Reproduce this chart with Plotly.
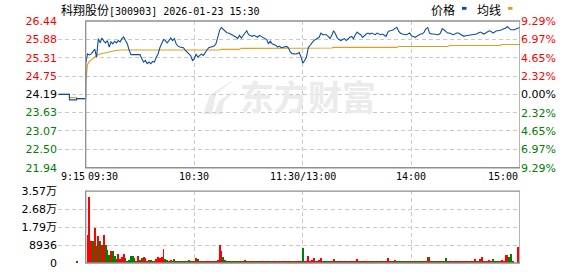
import plotly.graph_objects as go

# ---------------- data ----------------
title_name = "科翔股份"
title_rest = "[300903] 2026-01-23 15:30"
prev_close = 24.19

# pre-market auction 9:15 .. 9:29 (minutes relative to 9:30)
pre_min = [-15, -14, -13, -12, -11, -10, -9, -8, -7, -6, -5, -4, -3, -2, -1]
pre_price = [24.19, 24.19, 24.19, 24.19, 24.19, 24.19, 24.02, 24.02, 24.02, 24.02,
             24.06, 24.06, 24.06, 24.06, 24.06]
pre_avg = [24.19, 24.19, 24.19, 24.19, 24.19, 24.19, 24.09, 24.09, 24.09, 24.09,
           24.06, 24.06, 24.06, 24.06, 24.06]

# one price per trading minute, 09:30 (0) .. 15:00 (240)
price = [
    25.13, 25.43, 25.40, 25.43, 25.50, 25.58, 25.33, 25.90, 25.77, 25.92,
    25.82, 25.77, 25.84, 25.64, 25.80, 25.74, 25.82, 25.77, 25.84, 25.80,
    25.90, 25.95, 25.84, 25.74, 25.55, 25.41, 25.41, 25.41, 25.41, 25.41,
    25.41, 25.28, 25.18, 25.23, 25.13, 25.18, 25.13, 25.20, 25.18, 25.33,
    25.43, 25.62, 25.74, 25.87, 25.84, 25.77, 25.84, 25.92, 25.84, 25.90,
    25.74, 25.67, 25.64, 25.64, 25.62, 25.55, 25.48, 25.43, 25.38, 25.23,
    25.28, 25.43, 25.33, 25.38, 25.43, 25.38, 25.48, 25.55, 25.62, 25.64,
    25.66, 25.67, 25.74, 25.95, 26.15, 26.24, 26.18, 26.12, 26.08, 26.07,
    26.04, 26.02, 25.97, 25.95, 25.90, 26.00, 25.92, 26.00, 26.05, 26.14,
    26.02, 26.00, 25.97, 26.00, 25.97, 25.94, 26.00, 25.97, 25.94, 25.90,
    25.87, 25.74, 25.82, 25.74, 25.72, 25.70, 25.64, 25.67, 25.62, 25.64,
    25.66, 25.66, 25.62, 25.50, 25.44, 25.43, 25.43, 25.44, 25.48, 25.33,
    25.15, 25.23, 25.33, 25.62, 25.70, 25.80, 25.84, 25.87, 25.90, 25.94,
    26.07, 26.02, 26.02, 26.02, 25.97, 25.90, 26.00, 26.14, 26.05, 25.92,
    25.87, 25.84, 25.87, 25.90, 25.84, 25.90, 25.94, 25.97, 25.90, 26.02,
    26.10, 26.05, 26.02, 25.94, 26.00, 26.04, 26.07, 26.04, 26.07, 26.04,
    26.02, 26.07, 26.04, 26.02, 26.04, 25.99, 25.97, 26.10, 26.14, 26.15,
    26.17, 26.22, 26.24, 26.12, 26.06, 26.04, 26.02, 26.02, 26.04, 26.07,
    25.99, 25.97, 25.94, 25.97, 26.02, 26.04, 26.04, 26.10, 26.20, 26.24,
    26.07, 26.04, 26.04, 26.04, 26.02, 26.02, 26.07, 26.20, 26.17, 26.12,
    26.07, 26.07, 26.04, 26.02, 26.04, 26.07, 26.07, 26.04, 26.02, 25.97,
    25.99, 26.00, 26.00, 26.00, 26.02, 26.02, 26.04, 26.07, 26.10, 26.07,
    26.04, 26.07, 26.12, 26.14, 26.12, 26.07, 26.10, 26.14, 26.14, 26.15,
    26.17, 26.20, 26.22, 26.27, 26.22, 26.17, 26.17, 26.17, 26.20, 26.22,
    26.24,
]

# average price line, read at its turning points (minute, value)
avg_min = [0, 1, 2, 3, 4, 5, 6, 8, 10, 13, 16, 19, 33, 34, 60, 70, 74, 75, 85, 86,
           119, 120, 136, 137, 172, 173, 200, 201, 229, 230, 240]
avg_val = [24.53, 25.10, 25.20, 25.25, 25.29, 25.34, 25.38, 25.43, 25.46, 25.50,
           25.53, 25.55, 25.55, 25.53, 25.53, 25.55, 25.55, 25.57, 25.57, 25.60,
           25.60, 25.61, 25.61, 25.63, 25.63, 25.66, 25.66, 25.69, 25.69, 25.72,
           25.72]

# volume (shares) per minute 09:31 (1) .. 15:00 (240), direction R=up, G=down
pre_vol_min = [-5]
pre_vol = [870]
pre_vol_dir = "G"
vol = [
    14050, 32950, 11140, 10800, 17440, 8240, 13570, 10660, 8720, 13890,
    8720, 6300, 3880, 5810, 5810, 3390, 1940, 4360, 1940, 3070,
    4360, 2580, 650, 1450, 3390, 3390, 2580, 970, 3390, 1450,
    2580, 2900, 2260, 970, 1450, 1450, 650, 650, 1940, 2900,
    2580, 2900, 6780, 1940, 1450, 970, 1450, 650, 1940, 480,
    480, 480, 480, 480, 480, 480, 1450, 970, 970, 480,
    2420, 1940, 480, 480, 480, 480, 970, 480, 480, 480,
    480, 480, 1290, 8720, 5810, 2900, 1450, 480, 970, 480,
    480, 480, 480, 480, 480, 480, 480, 1290, 480, 480,
    480, 480, 480, 480, 480, 480, 480, 480, 480, 480,
    810, 480, 480, 480, 480, 480, 480, 480, 480, 480,
    480, 480, 480, 480, 480, 480, 480, 480, 480, 7270,
    480, 970, 3390, 970, 1450, 2420, 480, 480, 1450, 2420,
    480, 480, 480, 480, 480, 970, 1940, 480, 480, 480,
    480, 480, 480, 480, 480, 480, 480, 480, 480, 1940,
    480, 480, 480, 970, 480, 480, 480, 480, 480, 480,
    480, 480, 480, 480, 480, 480, 2420, 480, 480, 480,
    1450, 480, 480, 480, 480, 480, 480, 480, 480, 480,
    480, 480, 480, 480, 480, 480, 480, 480, 2900, 2900,
    480, 480, 480, 480, 480, 480, 480, 480, 2420, 480,
    480, 480, 480, 480, 480, 480, 480, 480, 480, 480,
    480, 480, 480, 480, 1940, 480, 480, 1940, 2900, 480,
    480, 970, 1450, 480, 1940, 970, 480, 480, 480, 1450,
    970, 3880, 3880, 2900, 4360, 480, 0, 0, 7750, 0,
]
vol_dir = (
    "RRRGRGRGRR" "GGGRGGGRRR" "RGGGGGRGRG" "RGRRGRGRRR" "RRRGGRRRGG"
    "RGRGRGGRGR" "RGRRGRRRGR" "RGRRRGGRGG" "RGGRGRGRGR" "GRRGRGRRGR"
    "GRGRRGRGRR" "GRRGRGRRRG" "RRRRRRGRRR" "GGGGRRRGGR" "RGRRGRRGRR"
    "RGRRRRGRRG" "RGRRGRRRRG" "RGGRGGRGGR" "GRGGRRGRRG" "RGRGGRGRGG"
    "RRGRRGRRGR" "RGRRRRGRRG" "RRRRGGRGRR" "RRRGGRRRRR"
)

# axis labels
time_ticks = [-15, 0, 60, 120, 180, 240]
time_labels = ["9:15", "09:30", "10:30", "11:30/13:00", "14:00", "15:00"]
price_ticks = [26.44, 25.88, 25.31, 24.75, 24.19, 23.63, 23.07, 22.50, 21.94]
pct_ticks = [9.29, 6.97, 4.65, 2.32, 0.00, -2.32, -4.65, -6.97, -9.29]
vol_ticks = [0, 8936, 17872, 26808, 35744]
vol_labels = ["0", "8936", "1.79万", "2.68万", "3.57万"]

# ---------------- style ----------------
RED = "#ff0000"
GREEN = "#008000"
BLUE = "#0d4ea0"
GOLD = "#e0a01c"
GRID = "#c9c9c9"
BORDER = "#8e8e8e"
NUMFONT = "DejaVu Sans, Noto Sans CJK SC"
MONOFONT = "DejaVu Sans Mono, Noto Sans CJK SC"
CJK = "Noto Sans CJK SC"

W, H = 578, 276
ML, MR, MT, MB = 58, 58, 21, 6
PW, PH = W - ML - MR, H - MT - MB


def px(xp):
    return (xp - ML) / PW


def py(yp):
    return (H - MB - yp) / PH


def tone(v, ref):
    if v > ref:
        return RED
    if v < ref:
        return GREEN
    return "#000000"


fig = go.Figure()

minutes = list(range(len(price)))

# average line
fig.add_trace(go.Scatter(x=pre_min + [0], y=pre_avg + [avg_val[0]], mode="lines",
                         line=dict(color=GOLD, width=1.1, shape="hv"),
                         xaxis="x", yaxis="y", hoverinfo="skip", showlegend=False))
fig.add_trace(go.Scatter(x=avg_min, y=avg_val, mode="lines",
                         line=dict(color=GOLD, width=1.1),
                         xaxis="x", yaxis="y", showlegend=False))
# price line
fig.add_trace(go.Scatter(x=pre_min + [0], y=pre_price + [price[0]], mode="lines",
                         line=dict(color=BLUE, width=1.1, shape="hv"),
                         xaxis="x", yaxis="y", hoverinfo="skip", showlegend=False))
fig.add_trace(go.Scatter(x=minutes, y=price, mode="lines",
                         line=dict(color=BLUE, width=1.1),
                         xaxis="x", yaxis="y", showlegend=False))
# helper trace for the right percent axis
fig.add_trace(go.Scatter(x=minutes, y=[(p / prev_close - 1) * 100 for p in price],
                         mode="lines", line=dict(width=0), opacity=0,
                         xaxis="x", yaxis="y3", hoverinfo="skip", showlegend=False))

# volume bars
vol_min = list(range(1, len(vol) + 1))
vol_colors = [RED if d == "R" else GREEN for d in vol_dir]
fig.add_trace(go.Bar(x=pre_vol_min + vol_min, y=pre_vol + vol,
                     marker=dict(color=[GREEN if pre_vol_dir == "G" else RED] + vol_colors,
                                 line=dict(width=0)),
                     width=0.5, xaxis="x2", yaxis="y2", showlegend=False))

grid_x = [-15, 60, 120, 180]
xcommon = dict(range=[-15.3, 240], tickvals=grid_x, showticklabels=False,
               showgrid=True, gridcolor=GRID, griddash="4px,3px", gridwidth=1,
               zeroline=False, showline=False, ticks="")

price_text = ["<span style='color:%s'>%.2f</span>" % (tone(v, prev_close), v) for v in price_ticks]
pct_text = ["<span style='color:%s'>%.2f%%</span>" % (tone(v, 0), abs(v)) for v in pct_ticks]

fig.update_layout(
    width=W, height=H,
    margin=dict(l=ML, r=MR, t=MT, b=MB, pad=0),
    paper_bgcolor="white", plot_bgcolor="white",
    bargap=0,
    xaxis=dict(domain=[0, 1], anchor="y", **xcommon),
    xaxis2=dict(domain=[0, 1], anchor="y2", matches="x", **xcommon),
    yaxis=dict(domain=[py(172), 1], anchor="x", range=[price_ticks[-1], price_ticks[0]],
               tickvals=price_ticks, ticktext=price_text,
               showgrid=True, gridcolor=GRID, griddash="4px,3px", gridwidth=1,
               zeroline=False, showline=False, ticks="",
               tickfont=dict(family=NUMFONT, size=11, color="#000000")),
    yaxis3=dict(overlaying="y", side="right", anchor="x",
                range=[pct_ticks[-1], pct_ticks[0]],
                tickvals=pct_ticks, ticktext=pct_text,
                showgrid=False, zeroline=False, showline=False, ticks="",
                tickfont=dict(family=NUMFONT, size=11, color="#000000")),
    yaxis2=dict(domain=[0, py(196)], anchor="x2", range=[0, vol_ticks[-1]],
                tickvals=vol_ticks, ticktext=vol_labels,
                showgrid=True, gridcolor=GRID, griddash="4px,3px", gridwidth=1,
                zeroline=False, showline=False, ticks="",
                tickfont=dict(family=NUMFONT, size=11, color="#000000")),
    hovermode=False,
)

shapes = [
    dict(type="rect", xref="x", yref="y domain", x0=0, x1=240, y0=0, y1=1,
         line=dict(color=BORDER, width=1.3), layer="above"),
    dict(type="rect", xref="x2", yref="y2 domain", x0=0, x1=240, y0=0, y1=1,
         line=dict(color=BORDER, width=1.3), layer="above"),
    # legend markers
    dict(type="rect", xref="paper", yref="paper", x0=px(462), x1=px(466.5),
         y0=py(9.5), y1=py(6.5), fillcolor=BLUE, line=dict(width=0)),
    dict(type="rect", xref="paper", yref="paper", x0=px(508), x1=px(512.5),
         y0=py(9.5), y1=py(6.5), fillcolor=GOLD, line=dict(width=0)),
]

# watermark logo strokes
def poly(points):
    return "M " + " L ".join("%.4f %.4f" % (px(a), py(b)) for a, b in points) + " Z"

for pts in ([(203, 117), (210, 97), (236, 80), (216, 96), (212, 117)],
            [(214, 117), (219, 103), (236, 92), (224, 104), (222, 117)]):
    shapes.append(dict(type="path", xref="paper", yref="paper", path=poly(pts),
                       fillcolor="#ebebeb", line=dict(width=0), layer="below"))

fig.update_layout(shapes=shapes)

annotations = [
    dict(xref="paper", yref="paper", x=px(59), y=py(9), xanchor="left", yanchor="middle",
         text="<span style='font-family:%s;font-size:12px'>%s</span>%s" % (CJK, title_name, title_rest),
         showarrow=False, font=dict(family=MONOFONT, size=10, color="#000000")),
    dict(xref="paper", yref="paper", x=px(443), y=py(9), xanchor="center", yanchor="middle",
         text="价格", showarrow=False, font=dict(family=CJK, size=12, color="#000000")),
    dict(xref="paper", yref="paper", x=px(488.5), y=py(9), xanchor="center", yanchor="middle",
         text="均线", showarrow=False, font=dict(family=CJK, size=12, color="#000000")),
    dict(xref="paper", yref="paper", x=px(308), y=py(98), xanchor="center", yanchor="middle",
         text="<b>东方财富</b>", showarrow=False,
         font=dict(family=CJK, size=34, color="#ebebeb")),
]
anchors = ["left", "left", "center", "center", "center", "right"]
for t, lab, anc in zip(time_ticks, time_labels, anchors):
    annotations.append(dict(xref="x", yref="paper", x=t, y=py(181), xanchor=anc,
                            yanchor="middle", text=lab, showarrow=False,
                            font=dict(family=MONOFONT, size=10, color="#000000")))
fig.update_layout(annotations=annotations)

fig.write_html("out.html")
